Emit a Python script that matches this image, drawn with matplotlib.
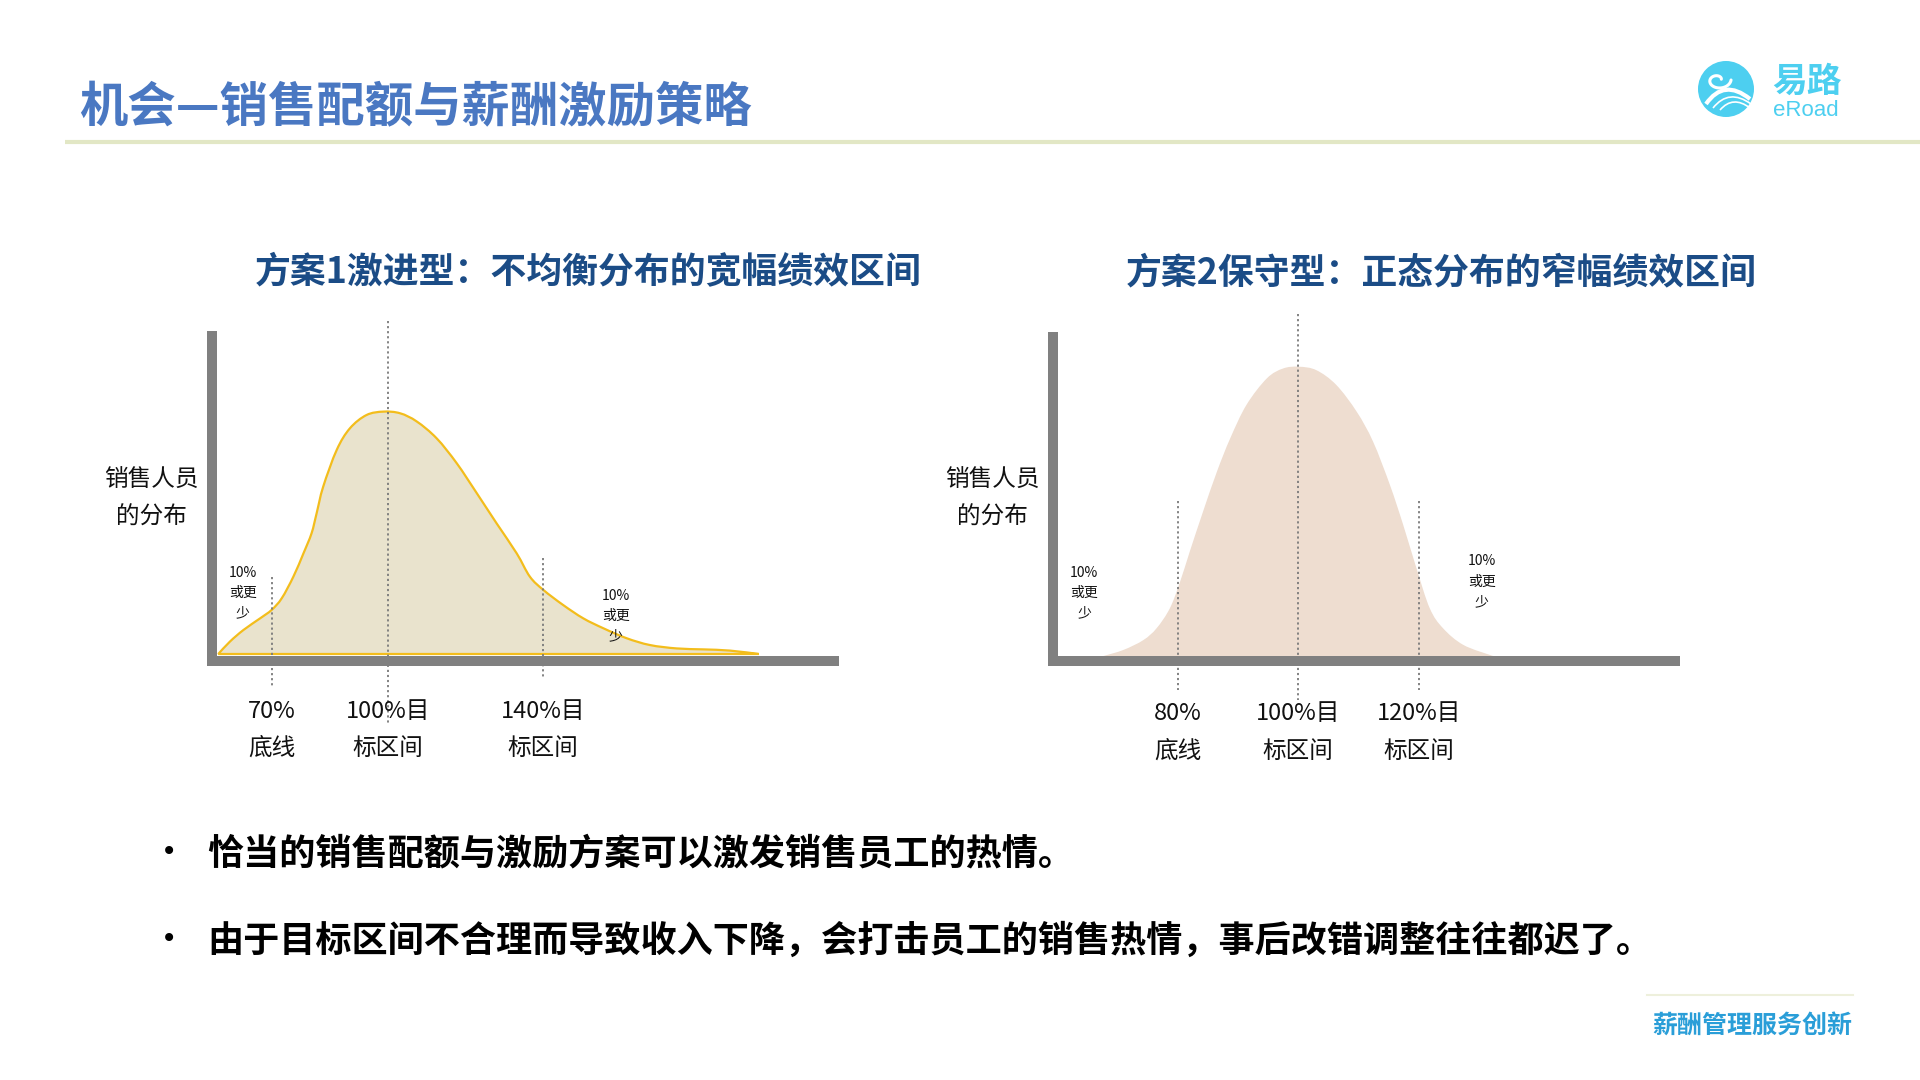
import numpy as np
import matplotlib
matplotlib.use("Agg")
import matplotlib.pyplot as plt
from matplotlib.path import Path
from matplotlib.patches import PathPatch, Circle
import matplotlib.transforms as mtransforms

plt.rcParams['font.family'] = ['Noto Sans CJK SC', 'DejaVu Sans']

# ---------------- data ----------------
page_title = "机会—销售配额与薪酬激励策略"
title_left = "方案1激进型：不均衡分布的宽幅绩效区间"
title_right = "方案2保守型：正态分布的窄幅绩效区间"
ylabel_lines = ["销售人员", "的分布"]
note_lines = ["10%", "或更", "少"]

# left: skewed wide distribution (x = % of target, y = relative share of salespeople)
left_x = [56.2, 59.2, 62.7, 67.0, 70.0, 72.6, 75.6, 78.2, 80.3, 81.6, 83.3, 86.8,
          90.2, 94.5, 98.9, 103.2, 107.5, 112.6, 117.8, 123.0, 128.1, 133.3, 136.7,
          140.2, 145.3, 150.5, 155.7, 161.7, 167.7, 174.6, 181.5, 188.4, 195.8]
left_y = [0, 5.1, 9.9, 14.7, 18.2, 23.0, 31.9, 41.5, 49.8, 58.0, 69.0, 84.2,
          93.1, 98.6, 100, 99.3, 95.9, 89.0, 78.7, 66.3, 53.9, 41.5, 31.9,
          26.4, 20.2, 14.7, 10.6, 6.5, 3.7, 2.3, 1.9, 1.4, 0]
left_ticks = [70, 100, 140]
left_tick_top = ["70%", "100%目", "140%目"]
left_tick_bot = ["底线", "标区间", "标区间"]

# right: normal narrow distribution
right_x = [67.7, 71.0, 74.3, 76.5, 78.7, 80.4, 82.0, 84.2, 86.5, 88.7, 91.4, 94.8,
           97.5, 100.1, 103.0, 106.3, 109.7, 112.4, 115.2, 117.4, 119.6, 121.8,
           124.0, 127.4, 132.3]
right_y = [0, 2.1, 5.5, 9.6, 16.5, 25.7, 36.1, 49.9, 63.7, 75.2, 86.8, 96.0,
           99.4, 100, 98.8, 93.7, 84.4, 74.1, 59.1, 45.3, 30.3, 16.5,
           9.6, 3.8, 0]
right_ticks = [80, 100, 120]
right_tick_top = ["80%", "100%目", "120%目"]
right_tick_bot = ["底线", "标区间", "标区间"]

bullets = ["恰当的销售配额与激励方案可以激发销售员工的热情。",
           "由于目标区间不合理而导致收入下降，会打击员工的销售热情，事后改错调整往往都迟了。"]
footer = "薪酬管理服务创新"

# ---------------- figure ----------------
fig = plt.figure(figsize=(19.2, 10.8), dpi=100)
bg = fig.add_axes([0, 0, 1, 1])
bg.set_xlim(0, 1920)
bg.set_ylim(1080, 0)
bg.axis('off')

# header
bg.text(79, 108, page_title, fontsize=34.8, weight='bold', color='#4A78C2',
        ha='left', va='center')
bg.plot([65, 1920], [142, 142], color='#E2E7C5', lw=3, solid_capstyle='butt')

# logo
bg.add_patch(Circle((1726, 89), 28, color='#4DCFF0', lw=0))
t = np.linspace(0.3, 2.0 * np.pi, 60)
r = 3 + 1.6 * t
bg.plot(1718 + r * np.cos(t), 80 - r * np.sin(t) * 0.75, color='white', lw=2.2,
        solid_capstyle='round')
for (p0, c, p1, lw) in [((1706, 104), (1724, 78), (1750, 99), 3.0),
                        ((1713, 108), (1729, 88), (1751, 104), 1.2),
                        ((1720, 110), (1733, 95), (1750, 108), 1.2)]:
    bg.add_patch(PathPatch(Path([p0, c, p1], [Path.MOVETO, Path.CURVE3, Path.CURVE3]),
                           fc='none', ec='white', lw=lw))
bg.text(1807, 81, "易路", fontsize=25, weight='bold', color='#4DCFF0', ha='center', va='center')
bg.text(1806, 110, "eRoad", fontsize=16, color='#4DCFF0', ha='center', va='center',
        family='Liberation Sans')

# chart titles
bg.text(588, 273, title_left, fontsize=25.8, weight='bold', color='#1B4C86',
        ha='center', va='center')
bg.text(1441, 273, title_right, fontsize=25.8, weight='bold', color='#1B4C86',
        ha='center', va='center')


def smooth_path(xs, ys, close=False):
    pts = np.column_stack([xs, ys]).astype(float)
    n = len(pts)
    verts = [pts[0]]
    codes = [Path.MOVETO]
    for i in range(n - 1):
        p0 = pts[i - 1] if i > 0 else pts[i]
        p1 = pts[i]
        p2 = pts[i + 1]
        p3 = pts[i + 2] if i + 2 < n else pts[i + 1]
        c1 = p1 + (p2 - p0) / 6.0
        c2 = p2 - (p3 - p1) / 6.0
        verts += [c1, c2, p2]
        codes += [Path.CURVE4] * 3
    if close:
        verts += [pts[0], pts[0]]
        codes += [Path.LINETO, Path.CLOSEPOLY]
    return Path(verts, codes)


def setup_axes(rect, xlim, ylim):
    ax = fig.add_axes(rect)
    ax.patch.set_visible(False)
    ax.set_xlim(*xlim)
    ax.set_ylim(*ylim)
    ax.set_xticks([])
    ax.set_yticks([])
    for s in ['top', 'right']:
        ax.spines[s].set_visible(False)
    for s in ['left', 'bottom']:
        ax.spines[s].set_linewidth(7.2)
        ax.spines[s].set_color('#808080')
        ax.spines[s].set_capstyle('projecting')
        ax.spines[s].set_zorder(2.5)
    return ax


dot_style = dict(color='#7a7a7a', lw=1.3, linestyle=(0, (1.2, 1.6)), zorder=2, clip_on=False)
label_style = dict(fontsize=17, color='#111111', ha='center', va='center')
note_style = dict(fontsize=10, color='#111111', ha='center', va='center')

# ---------------- left chart ----------------
axL = setup_axes([212 / 1920, 1 - 661 / 1080, 622 / 1920, 325 / 1080],
                 (54.58, 215.26), (-2.89, 131.2))
blendL = mtransforms.blended_transform_factory(axL.transData, bg.transData)
axL.add_patch(PathPatch(smooth_path(left_x, left_y, close=True), fc='#E9E3CD',
                        ec='#F3BD1C', lw=1.6, zorder=1))
for xv, (y0, y1) in zip(left_ticks, [(577, 687), (321, 723), (558, 678)]):
    axL.plot([xv, xv], [y0, y1], transform=blendL, **dot_style)
for xv, top, bot in zip(left_ticks, left_tick_top, left_tick_bot):
    axL.text(xv, 711, top, transform=blendL, **label_style)
    axL.text(xv, 748, bot, transform=blendL, **label_style)
for i, s in enumerate(ylabel_lines):
    bg.text(151, 480 + 37 * i, s, **label_style)
for i, s in enumerate(note_lines):
    axL.text(62.5, 573 + 20 * i, s, transform=blendL, **note_style)
    axL.text(158.9, 596 + 20 * i, s, transform=blendL, **note_style)

# ---------------- right chart ----------------
axR = setup_axes([1053 / 1920, 1 - 661 / 1080, 622 / 1920, 324 / 1080],
                 (59.32, 162.47), (-1.728, 110.27))
blendR = mtransforms.blended_transform_factory(axR.transData, bg.transData)
axR.add_patch(PathPatch(smooth_path(right_x, right_y, close=True), fc='#EEDDD0',
                        ec='none', zorder=1))
for xv, (y0, y1) in zip(right_ticks, [(501, 690), (314, 700), (501, 690)]):
    axR.plot([xv, xv], [y0, y1], transform=blendR, **dot_style)
for xv, top, bot in zip(right_ticks, right_tick_top, right_tick_bot):
    axR.text(xv, 714, top, transform=blendR, **label_style)
    axR.text(xv, 751, bot, transform=blendR, **label_style)
for i, s in enumerate(ylabel_lines):
    bg.text(992, 480 + 37 * i, s, **label_style)
for i, s in enumerate(note_lines):
    axR.text(64.5, 573 + 20 * i, s, transform=blendR, **note_style)
    axR.text(130.4, 561 + 20.5 * i, s, transform=blendR, **note_style)

# ---------------- bullets ----------------
for i, s in enumerate(bullets):
    y = 854 + 87 * i
    bg.text(169, y - 2, "•", fontsize=20, color='black', ha='center', va='center',
            family='DejaVu Sans')
    bg.text(207, y, s, fontsize=26, weight='bold', color='black', ha='left', va='center')

# ---------------- footer ----------------
bg.plot([1647, 1853], [995, 995], color='#EEF0DC', lw=1.5)
bg.text(1752, 1026, footer, fontsize=18, weight='bold', color='#2A9ED8',
        ha='center', va='center')

fig.savefig("out.png", dpi=100)
